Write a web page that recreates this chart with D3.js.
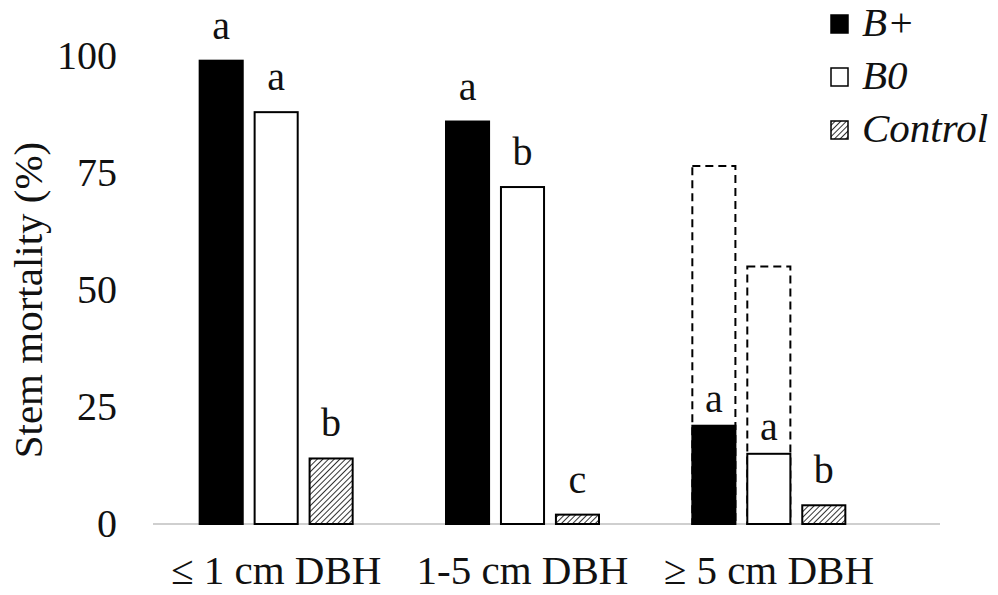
<!DOCTYPE html>
<html>
<head>
<meta charset="utf-8">
<script src="https://cdn.jsdelivr.net/npm/d3@7/dist/d3.min.js"></script>
<style>
  html, body { margin: 0; padding: 0; background: #fff; }
  svg { display: block; font-family: "Liberation Serif", "Times New Roman", serif; }
</style>
</head>
<body>
<svg id="chart" width="998" height="595"></svg>
<script>
// Size classes along the x axis
const categories = ["\u2264 1 cm DBH", "1-5 cm DBH", "\u2265 5 cm DBH"];
// Treatments
const series = ["B+", "B0", "Control"];
// Stem mortality (%) per treatment, one value per size class
const valuesBplus = [99, 86, 21];
const valuesB0 = [88, 72, 15];
const valuesControl = [14, 2, 4];
// Dashed outlines (only for the largest size class), null where absent
const dashedBplus = [null, null, 76.5];
const dashedB0 = [null, null, 55];
// Significance letters above each bar
const lettersBplus = ["a", "a", "a"];
const lettersB0 = ["a", "b", "a"];
const lettersControl = ["b", "c", "b"];
// y axis ticks
const yTicks = [0, 25, 50, 75, 100];

const FONT = "Liberation Serif, Times New Roman, serif";
const svg = d3.select("#chart");

// hatch pattern for the control bars
const defs = svg.append("defs");
const pat = defs.append("pattern")
  .attr("id", "hatch")
  .attr("patternUnits", "userSpaceOnUse")
  .attr("width", 4).attr("height", 4)
  .attr("patternTransform", "rotate(45)");
pat.append("rect").attr("width", 4).attr("height", 4).attr("fill", "#fff");
pat.append("line").attr("x1", 0).attr("y1", 0).attr("x2", 0).attr("y2", 4)
  .attr("stroke", "#333").attr("stroke-width", 2);

const x0 = d3.scaleBand().domain(categories).range([153, 892]);
const groupWidth = 155;
const x1 = d3.scaleBand().domain(series).range([0, groupWidth]).paddingInner(0.18);
const y = d3.scaleLinear().domain([0, 100]).range([524, 56]);

const groupStart = c => x0(c) + (x0.bandwidth() - groupWidth) / 2;

// baseline axis
svg.append("line")
  .attr("x1", 153).attr("x2", 940)
  .attr("y1", y(0)).attr("y2", y(0))
  .attr("stroke", "#bfbfbf").attr("stroke-width", 1.5);

// y tick labels
const yAxis = d3.axisLeft(y).tickValues(yTicks).tickSize(0).tickPadding(0);
const gy = svg.append("g").attr("transform", "translate(117,0)").call(yAxis);
gy.select(".domain").remove();
gy.selectAll("text")
  .attr("font-size", 40)
  .attr("font-family", FONT)
  .attr("fill", "#111");

// y title
svg.append("text")
  .attr("transform", `translate(42,300) rotate(-90)`)
  .attr("text-anchor", "middle")
  .attr("font-size", 41)
  .attr("font-family", FONT)
  .attr("fill", "#111")
  .text("Stem mortality (%)");

// x labels
const xAxis = d3.axisBottom(x0).tickSize(0).tickPadding(0);
const gx = svg.append("g").attr("transform", "translate(0,584)").call(xAxis);
gx.select(".domain").remove();
gx.selectAll("text")
  .attr("font-size", 41)
  .attr("font-family", FONT)
  .attr("fill", "#111")
  .attr("dy", "0");

const rows = categories.map((c, i) => ({
  cat: c,
  bars: [
    { s: "B+", v: valuesBplus[i], dash: dashedBplus[i], letter: lettersBplus[i] },
    { s: "B0", v: valuesB0[i], dash: dashedB0[i], letter: lettersB0[i] },
    { s: "Control", v: valuesControl[i], dash: null, letter: lettersControl[i] }
  ]
}));

const fills = { "B+": "#000", "B0": "#fff", "Control": "url(#hatch)" };

const groups = svg.selectAll("g.cat").data(rows).join("g")
  .attr("class", "cat")
  .attr("transform", d => `translate(${groupStart(d.cat)},0)`);

// dashed outlines
groups.selectAll("rect.dash").data(d => d.bars.filter(b => b.dash != null)).join("rect")
  .attr("class", "dash")
  .attr("x", b => x1(b.s) + 1)
  .attr("width", x1.bandwidth() - 2)
  .attr("y", b => y(b.dash))
  .attr("height", b => y(0) - y(b.dash))
  .attr("fill", "none")
  .attr("stroke", "#000")
  .attr("stroke-width", 2)
  .attr("stroke-dasharray", "8,5");

// bars
groups.selectAll("rect.bar").data(d => d.bars).join("rect")
  .attr("class", "bar")
  .attr("x", b => x1(b.s) + 1)
  .attr("width", x1.bandwidth() - 2)
  .attr("y", b => y(b.v))
  .attr("height", b => y(0) - y(b.v))
  .attr("fill", b => fills[b.s])
  .attr("stroke", "#000")
  .attr("stroke-width", 2);

// significance letters
groups.selectAll("text.letter").data(d => d.bars).join("text")
  .attr("class", "letter")
  .attr("x", b => x1(b.s) + x1.bandwidth() / 2)
  .attr("y", b => y(b.v) - (b.dash != null ? 14 : 22))
  .attr("text-anchor", "middle")
  .attr("font-size", 40)
  .attr("font-family", FONT)
  .attr("fill", "#111")
  .text(b => b.letter);

// legend
const legend = svg.append("g").attr("transform", "translate(830,0)");
const legItems = legend.selectAll("g").data(series).join("g")
  .attr("transform", (d, i) => `translate(0,${14 + i * 53})`);
legItems.append("rect")
  .attr("x", 1).attr("y", 1).attr("width", 17).attr("height", 18)
  .attr("fill", d => fills[d])
  .attr("stroke", "#000").attr("stroke-width", 1.5);
legItems.append("text")
  .attr("x", 32).attr("y", 22)
  .attr("font-size", 41)
  .attr("font-style", "italic")
  .attr("font-family", FONT)
  .attr("fill", "#111")
  .text(d => d);
</script>
</body>
</html>
